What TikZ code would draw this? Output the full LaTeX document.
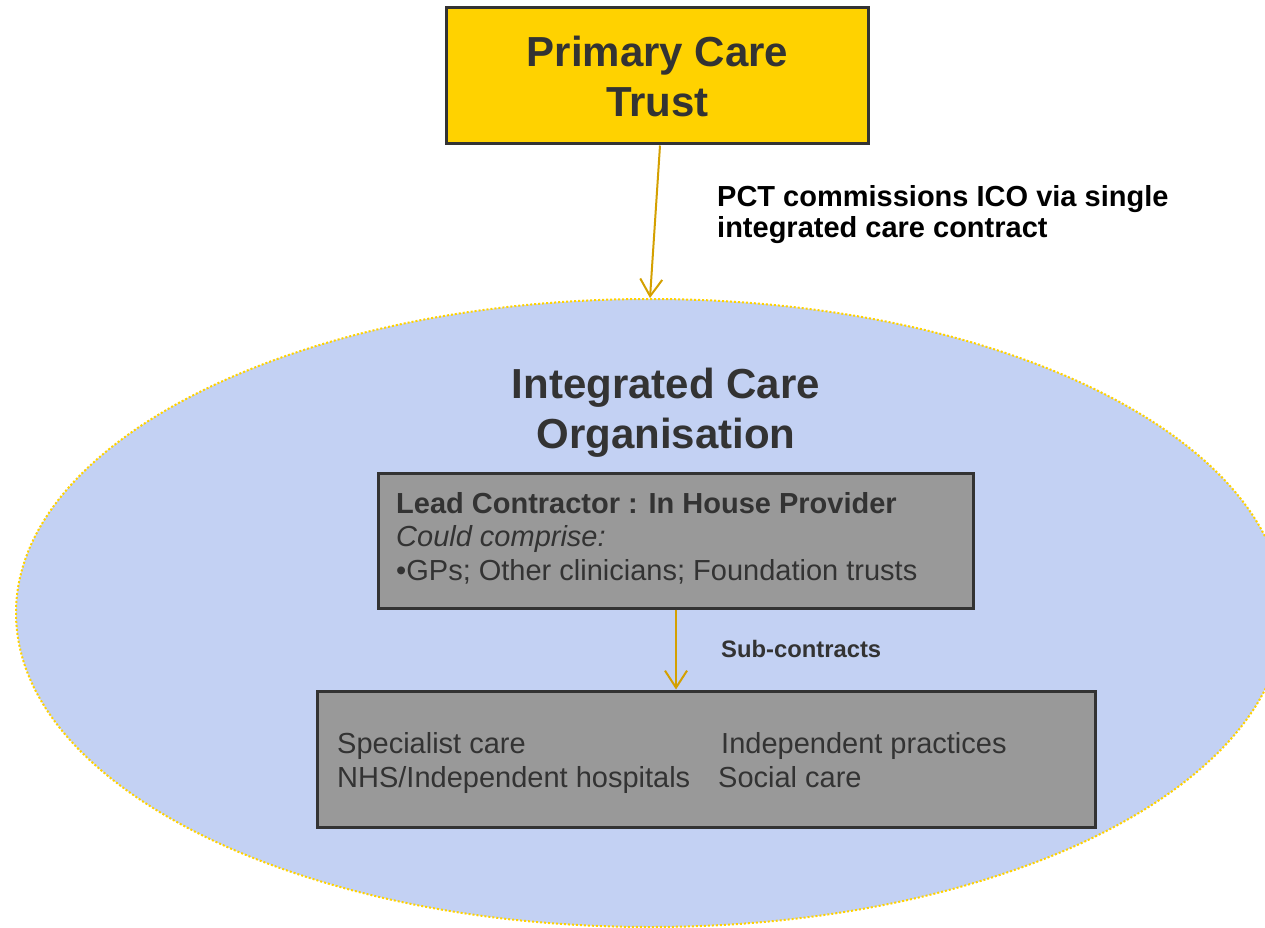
\documentclass[tikz,border=0pt]{standalone}
\usepackage{fontspec}
\setmainfont{Liberation Sans}
\usetikzlibrary{shapes.geometric,arrows.meta}
\definecolor{pctgold}{RGB}{255,210,0}
\definecolor{icoblue}{RGB}{195,209,243}
\definecolor{boxgray}{RGB}{153,153,153}
\definecolor{edgedark}{RGB}{51,51,51}
\definecolor{arrowgold}{RGB}{212,160,0}
\definecolor{txtdark}{RGB}{51,51,51}
\newcommand\titlefont{\fontsize{42pt}{50pt}\selectfont\bfseries}
\newcommand\labelfont{\fontsize{29pt}{33pt}\selectfont\bfseries}
\newcommand\bodyfont{\fontsize{29pt}{34pt}\selectfont}
\newcommand\smallbold{\fontsize{23.8pt}{28pt}\selectfont\bfseries}
\begin{document}
\begin{tikzpicture}[x=1pt,y=-1pt,
  box/.style={draw=edgedark,line width=3pt,rectangle,inner sep=0pt},
  txt/.style={inner sep=0pt,anchor=base west,text=txtdark},
  ctxt/.style={inner sep=0pt,anchor=base,text=txtdark},
  arr/.style={draw=arrowgold,line width=2pt,-{Straight Barb[length=17pt,width=22pt,line width=2pt]}}]
\useasboundingbox (0,0) rectangle (1265,928);
\fill[white] (0,0) rectangle (1265,928);
% ellipse
\node[ellipse,fill=icoblue,draw=pctgold,line width=2pt,dash pattern=on 2pt off 2pt,
      minimum width=1268pt,minimum height=628pt,inner sep=0pt] (ico) at (650,613) {};
% PCT box
\node[box,fill=pctgold,minimum width=422pt,minimum height=136pt] (pct) at (657,76) {};
\node[ctxt,font=\titlefont] (pct1) at (657.5,67) {Primary Care};
\node[ctxt,font=\titlefont] (pct2) at (657.5,117) {Trust};
% label
\node[txt,text=black,font=\labelfont] (lab1) at (717,206) {PCT commissions ICO via single};
\node[txt,text=black,font=\labelfont] (lab2) at (717,237) {integrated care contract};
% ICO title
\node[ctxt,font=\titlefont] (ico1) at (666,398) {Integrated Care};
\node[ctxt,font=\titlefont] (ico2) at (666,448) {Organisation};
% lead box
\node[box,fill=boxgray,minimum width=595pt,minimum height=135pt] (lead) at (676,540.5) {};
\node[txt,font=\labelfont] (lead1) at (396,513) {Lead Contractor : In House Provider};
\node[txt,font=\bodyfont\itshape] (lead2) at (396,546) {Could comprise:};
\node[txt,font=\bodyfont] (lead3) at (396,580) {•GPs; Other clinicians; Foundation trusts};
% sub box
\node[box,fill=boxgray,minimum width=778pt,minimum height=136pt] (sub) at (706,759) {};
\node[txt,font=\bodyfont] (s1) at (337,753) {Specialist care};
\node[txt,font=\bodyfont] (s2) at (337,787) {NHS/Independent hospitals};
\node[txt,font=\bodyfont] (s3) at (721,753) {Independent practices};
\node[txt,font=\bodyfont] (s4) at (718,787) {Social care};
\node[txt,font=\smallbold] (subl) at (721,657) {Sub-contracts};
% arrows
\draw[arr] ([xshift=3pt]pct.south) -- (ico.north);
\draw[arr] (lead.south) -- (lead.south |- sub.north);
\end{tikzpicture}
\end{document}
